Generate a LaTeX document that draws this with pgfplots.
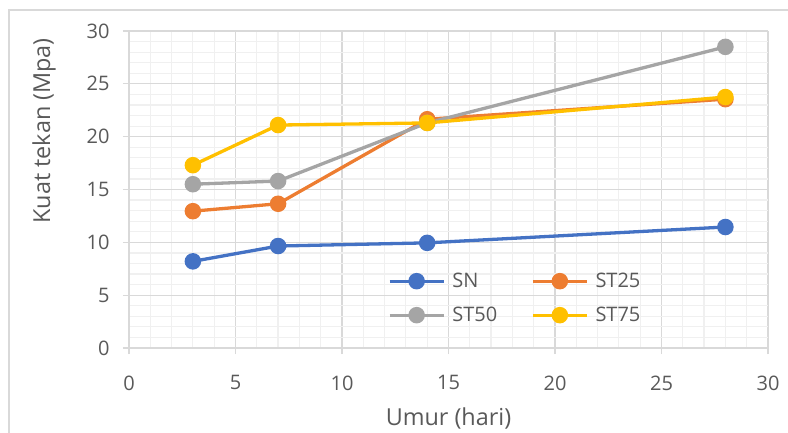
\documentclass[border=0pt]{standalone}
\usepackage{pgfplots}
\pgfplotsset{compat=1.18}
\usepackage{fontspec}
\setmainfont{Open Sans}
\definecolor{cSN}{HTML}{4472C4}
\definecolor{cST25}{HTML}{ED7D31}
\definecolor{cST50}{HTML}{A5A5A5}
\definecolor{cST75}{HTML}{FFC000}
\definecolor{txt}{HTML}{595959}
\definecolor{gmaj}{HTML}{D9D9D9}
\definecolor{gmin}{HTML}{F0F0F0}
\begin{document}
\begin{tikzpicture}[x=1pt,y=1pt]
\begin{axis}[
  anchor=south west,
  scale only axis, width=639pt, height=317pt,
  xmin=0, xmax=30, ymin=0, ymax=30,
  xtick={0,5,...,30}, ytick={0,5,...,30},
  minor x tick num=4, minor y tick num=4,
  grid=both,
  major grid style={gmaj,line width=1.2pt},
  minor grid style={gmin,line width=1.2pt},
  axis line style={gmaj,line width=1.2pt},
  axis x line*=bottom, axis y line*=left,
  tick style={gmaj,line width=1.2pt},
  major tick length=6pt, minor tick length=0pt,
  tick align=outside,
  every tick label/.append style={font=\fontsize{20}{22}\selectfont, text=txt},
  /pgf/number format/assume math mode=true,
  xticklabel style={yshift=-18pt},
  yticklabel style={xshift=-10pt},
  xlabel={Umur (hari)}, ylabel={Kuat tekan (Mpa)},
  label style={font=\fontsize{23.4}{26}\selectfont, text=txt},
  xlabel style={at={(axis description cs:0.5,-0.243)}, anchor=base},
  ylabel style={at={(axis description cs:-0.133,0.685)}, anchor=center},
  every axis plot/.append style={line width=3.3pt, mark=*, mark size=6.6pt, mark options={line width=1.5pt}},
  legend columns=2,
  legend cell align=left,
  legend style={at={(0.405,0.243)}, anchor=north west, draw=none, fill=none,
    inner sep=0pt,
    font=\fontsize{20}{22}\selectfont, text=txt,
    /tikz/every odd column/.append style={column sep=5pt},
    /tikz/every even column/.append style={column sep=32pt},
    row sep=14pt},
  legend image code/.code={\draw[mark repeat=2,mark phase=2] plot coordinates {(0pt,0pt)(27pt,0pt)(54pt,0pt)};},
  clip=false,
]
\addplot[cSN, mark options={fill=cSN}] coordinates {(3,8.2) (7,9.65) (14,9.95) (28,11.45)};
\addlegendentry{SN}
\addplot[cST25, mark options={fill=cST25}] coordinates {(3,12.95) (7,13.65) (14,21.65) (28,23.55)};
\addlegendentry{ST25}
\addplot[cST50, mark options={fill=cST50}] coordinates {(3,15.5) (7,15.8) (14,21.3) (28,28.5)};
\addlegendentry{ST50}
\addplot[cST75, mark options={fill=cST75}] coordinates {(3,17.3) (7,21.1) (14,21.3) (28,23.75)};
\addlegendentry{ST75}
\end{axis}
\draw[gmaj,line width=1.2pt] (-120,-120) -- (-120,338) -- (720,338);
\pgfresetboundingbox
\useasboundingbox (-129,-84) rectangle (659,348);
\end{tikzpicture}
\end{document}
